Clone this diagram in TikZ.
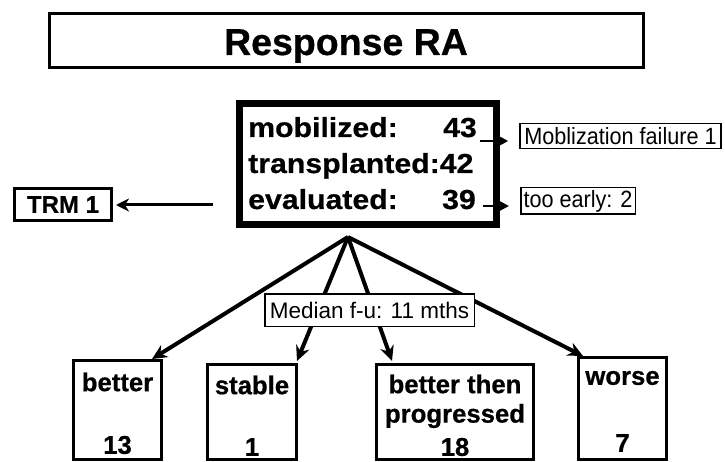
\documentclass[tikz,border=0pt]{standalone}
\usepackage{fontspec}
\setmainfont{Liberation Sans}[BoldFeatures={FakeBold=0.6}]
\newfontfamily\widefont{Liberation Sans}[FakeStretch=1.1, BoldFeatures={FakeBold=0.6}]
\newfontfamily\narrowfont{Liberation Sans}[FakeStretch=0.92]
\usetikzlibrary{arrows.meta}
\begin{document}
\begin{tikzpicture}[x=1pt,y=-1pt,
  box/.style={draw=black, rectangle, inner sep=0pt, fill=white},
  titlefont/.style={font=\fontsize{37.5}{40}\selectfont\bfseries},
  mainfont/.style={font=\widefont\fontsize{27.5}{30}\selectfont\bfseries},
  lowfont/.style={font=\fontsize{25.7}{28}\selectfont\bfseries},
  smallfont/.style={font=\narrowfont\fontsize{23.5}{26}\selectfont},
  txt/.style={inner sep=0pt},
  bigarrow/.style={line width=4pt, -{Stealth[length=15pt, width=14pt, inset=5pt]}},
  smallarrow/.style={line width=2pt, -{Triangle[length=9pt, width=9pt]}},
]
\useasboundingbox (0,0) rectangle (725,462);

% title
\node[box, line width=3pt, minimum width=594pt, minimum height=54pt] (title) at (346.5,40.5) {};
\node[txt, titlefont, anchor=base] (titletext) at (346,55) {Response RA};

% main box
\node[box, line width=7pt, minimum width=257.5pt, minimum height=121pt] (main) at (367.75,164.5) {};
\node[txt, mainfont, anchor=base west] (mob) at (248,137) {mobilized:};
\node[txt, mainfont, anchor=base east] (n43) at (477,137) {43};
\node[txt, mainfont, anchor=base west] (trans) at (248,173) {transplanted:42};
\node[txt, mainfont, anchor=base west] (eval) at (248,209) {evaluated:};
\node[txt, mainfont, anchor=base east] (n39) at (476,209) {39};

% side boxes
\node[box, line width=1.5pt, minimum width=201pt, minimum height=25pt, smallfont] (mf) at (620.5,136) {Moblization failure 1};
\node[box, line width=1.5pt, minimum width=114.5pt, minimum height=26.5pt, smallfont] (te) at (578,201) {too early: 2};
\node[box, line width=3pt, minimum width=97pt, minimum height=32pt, font=\fontsize{24}{26}\selectfont\bfseries] (trm) at (63,204.5) {TRM 1};

\coordinate (a43) at (480,141);
\coordinate (a39) at (483,206);
\coordinate (atrm) at (213,205);
\draw[smallarrow, shorten >=11pt] (a43) -- (a43 -| mf.west);
\draw[smallarrow, shorten >=11pt] (a39) -- (a39 -| te.west);
\draw[line width=3pt, -{Stealth[length=13pt, width=13pt, inset=4pt]}, shorten >=3pt] (atrm) -- (atrm -| trm.east);

% lower boxes
\node[box, line width=3pt, minimum width=88pt, minimum height=99pt] (better) at (117.5,410) {};
\node[box, line width=3pt, minimum width=89pt, minimum height=95pt] (stable) at (252,412) {};
\node[box, line width=3pt, minimum width=157pt, minimum height=95pt] (btp) at (455,412) {};
\node[box, line width=3pt, minimum width=88pt, minimum height=102pt] (worse) at (622.5,408.5) {};

\node[txt, lowfont] (betterl) at (117.5,382) {better};
\node[txt, lowfont] (betterv) at (117.5,445) {13};
\node[txt, lowfont] (stablel) at (252,385) {stable};
\node[txt, lowfont] (stablev) at (252,447) {1};
\node[txt, lowfont] (btpl1) at (455,384) {better then};
\node[txt, lowfont] (btpl2) at (455,416) {progressed};
\node[txt, lowfont] (btpv) at (455,447) {18};
\node[txt, lowfont] (worsel) at (622.5,378) {worse};
\node[txt, lowfont] (worsev) at (622.5,443) {7};

% arrows from apex
\coordinate (apex) at (348,237);
\draw[bigarrow] (apex) -- ([xshift=-11pt]better.north east);
\draw[bigarrow] (apex) -- ([xshift=-1pt,yshift=2pt]stable.north east);
\draw[bigarrow] (apex) -- ([xshift=17pt,yshift=2pt]btp.north west);
\draw[bigarrow] (apex) -- ([xshift=6pt]worse.north west);

% median box on top
\node[box, line width=1.5pt, minimum width=209.5pt, minimum height=32.5pt, font=\fontsize{22.5}{24}\selectfont] (median) at (369.5,310) {Median f-u: 11 mths};
\end{tikzpicture}
\end{document}
